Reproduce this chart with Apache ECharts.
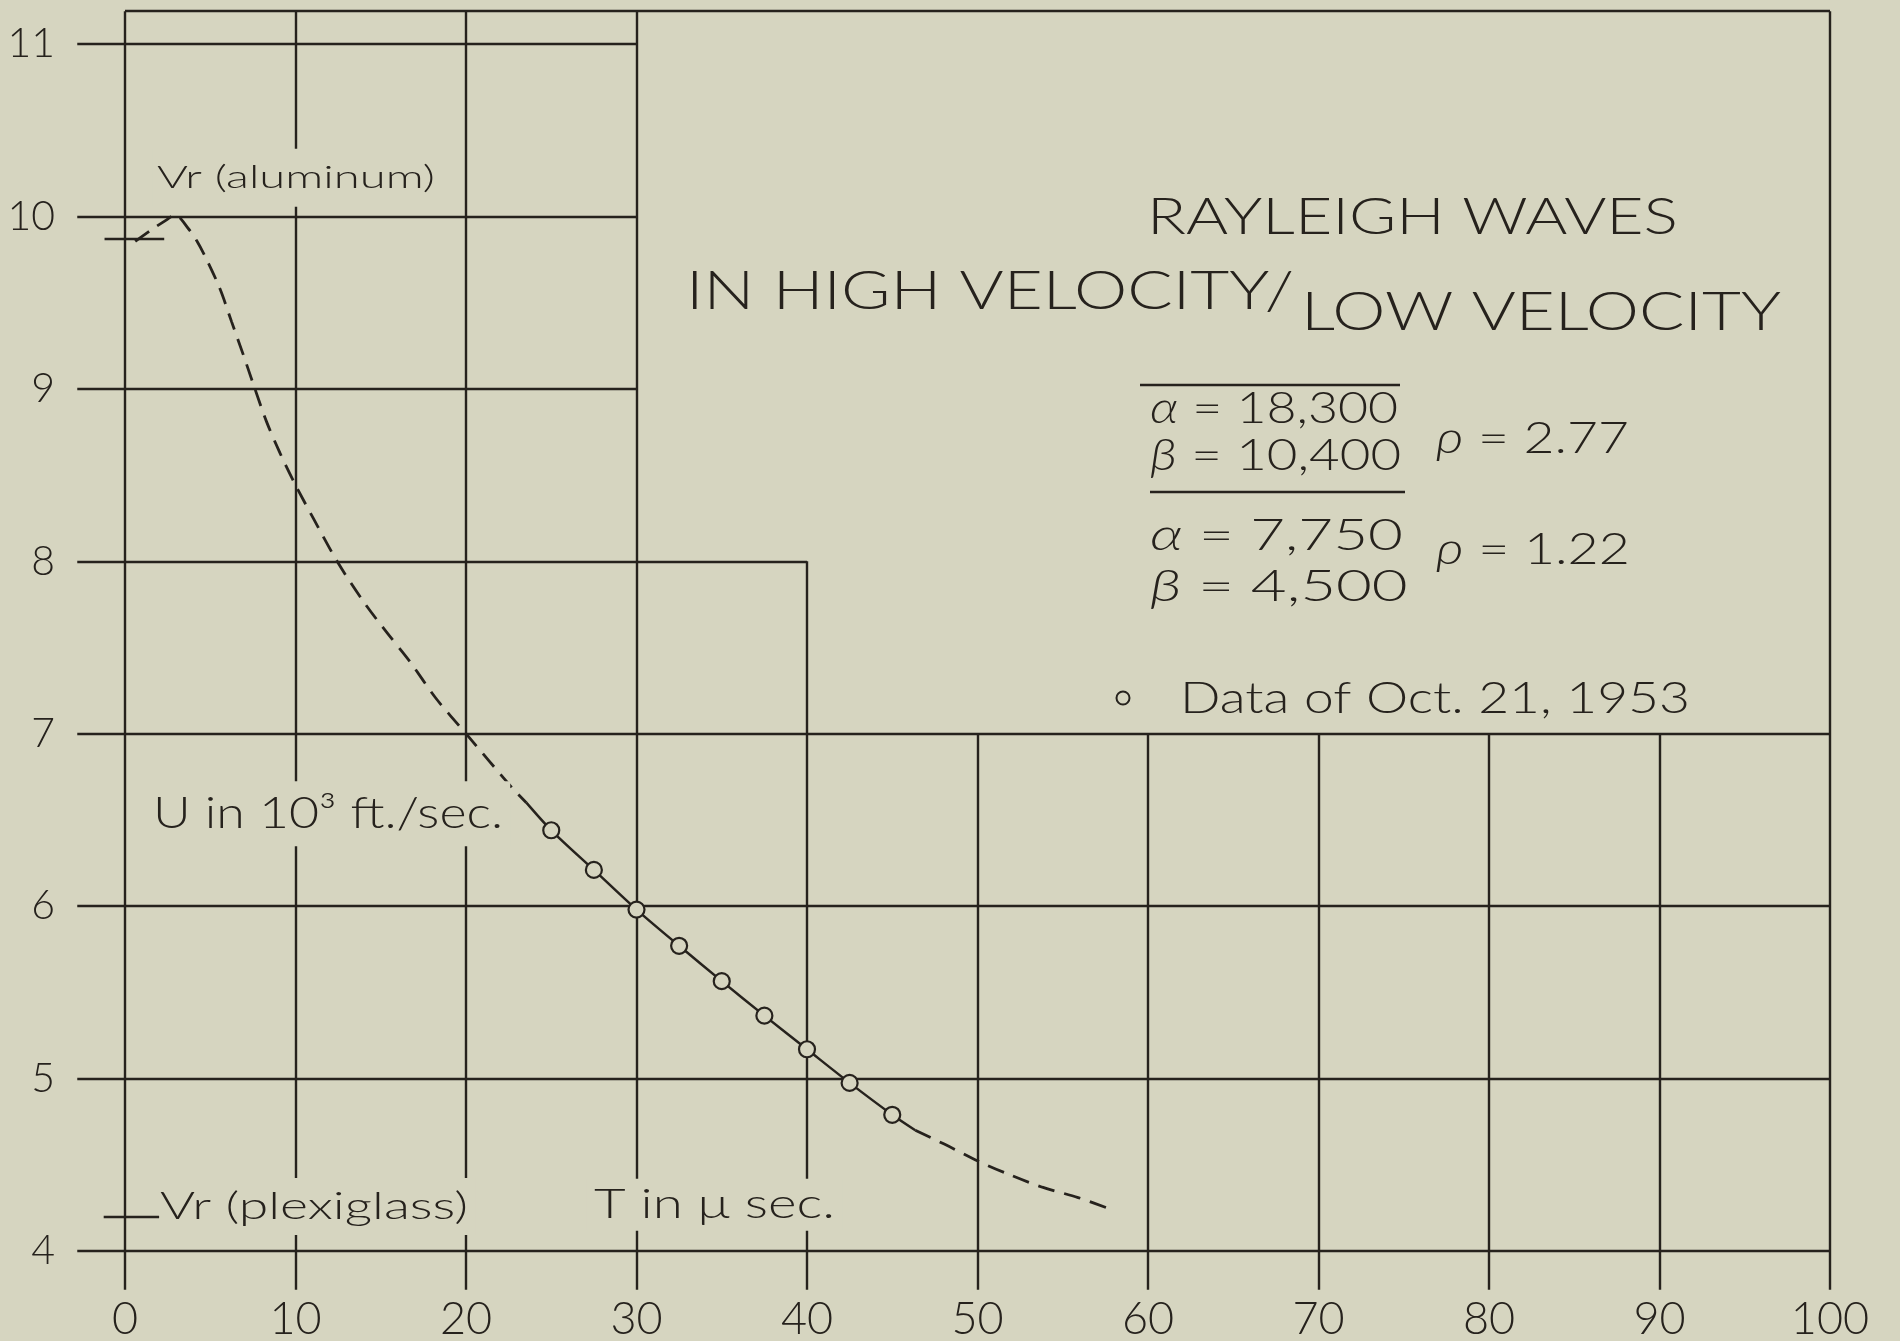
<!DOCTYPE html>
<html>
<head>
<meta charset="utf-8">
<script src="https://cdn.jsdelivr.net/npm/echarts@6/dist/echarts.min.js"></script>
<style>
html,body{margin:0;padding:0;background:#d6d5c0;}
#chart{width:1900px;height:1341px;}
</style>
</head>
<body>
<div id="chart"></div>
<script>
// ---------------- data ----------------
const xTickValues = [0, 10, 20, 30, 40, 50, 60, 70, 80, 90, 100];
const yTickValues = [4, 5, 6, 7, 8, 9, 10, 11];

// observed points "Data of Oct. 21, 1953"  (T in µsec, U in 10^3 ft/sec)
const dataT = [25, 27.5, 30, 32.5, 35, 37.5, 40, 42.5, 45];
const dataU = [6.44, 6.21, 5.98, 5.77, 5.565, 5.365, 5.17, 4.975, 4.79];

// theoretical curve, dashed head (from Vr aluminum)
const curveHead = [[0.6, 9.855], [1.66, 9.93], [2.44, 9.98], [2.93, 10.01], [3.71, 9.93], [4.2, 9.86],
  [4.79, 9.75], [5.57, 9.58], [6.25, 9.39], [6.93, 9.2], [7.62, 9.0], [8.3, 8.81], [9.08, 8.63],
  [9.96, 8.45], [11.04, 8.25], [12.44, 8.0], [13.96, 7.77], [15.33, 7.59], [16.7, 7.42],
  [18.2, 7.21], [20.0, 7.0], [22.76, 6.68], [23.54, 6.6]];
// solid part through the data
const curveFit = [[23.54, 6.6], [25, 6.44], [27.5, 6.21], [30, 5.98], [32.5, 5.77], [35, 5.565],
  [37.5, 5.365], [40, 5.17], [42.5, 4.975], [45, 4.79], [46.35, 4.70]];
// dashed tail
const curveTail = [[46.35, 4.70], [48.05, 4.62], [50.06, 4.52], [51.7, 4.45], [53.8, 4.37],
  [55.9, 4.31], [57.86, 4.24]];

const vrAluminum = 9.87;
const vrPlexiglass = 4.2;

// grid structure of the drawing sheet: how far each line reaches (value space)
const frameTop = 11.19;
const verticalReach = [[0, frameTop], [10, frameTop], [20, frameTop], [30, frameTop], [40, 8],
  [50, 7], [60, 7], [70, 7], [80, 7], [90, 7], [100, frameTop]];
const horizontalReach = [[4, 100], [5, 100], [6, 100], [7, 100], [8, 40], [9, 30], [10, 30], [11, 30]];

// ---------------- styling ----------------
const BG = '#d6d5c0';
const INK = '#26221d';
const FONT = 'Lato';
const WEIGHT = 300;

const chart = echarts.init(document.getElementById('chart'), null, {renderer: 'canvas'});

const X_TICK_END = 3.775;  // bottom tick end (value)
const Y_TICK_END = -2.8;   // left tick end (value)

const segs = [];
verticalReach.forEach(([x, top]) => segs.push({coords: [[x, X_TICK_END], [x, top]]}));
horizontalReach.forEach(([y, right]) => segs.push({coords: [[Y_TICK_END, y], [right, y]]}));
segs.push({coords: [[0, frameTop], [100, frameTop]]});
segs.push({coords: [[-1.2, vrAluminum], [2.3, vrAluminum]]});
segs.push({coords: [[-1.25, vrPlexiglass], [2.0, vrPlexiglass]]});

const mctx = document.createElement('canvas').getContext('2d');
function measure(str, font) { mctx.font = font; return mctx.measureText(str).width; }

// str may contain one greek letter at its start marked as italic via rich text
function label(str, left, width, capMid, size, pad, italicLead) {
  const p = pad || [0, 0, 0, 0];
  const font = `${WEIGHT} ${size}px ${FONT}`;
  const s = width / measure(str, font);
  const style = {
    text: italicLead ? `{g|${str.charAt(0)}}${str.slice(1)}` : str,
    font: font, fontFamily: FONT, fontSize: size, fontWeight: WEIGHT,
    fill: INK, align: 'left', verticalAlign: 'middle', lineHeight: size, padding: p
  };
  if (italicLead) {
    style.rich = {g: {fontFamily: FONT, fontSize: size, fontWeight: WEIGHT, fontStyle: 'italic', fill: INK, lineHeight: size}};
  }
  if (pad) style.backgroundColor = BG;
  return {
    type: 'text', z: 20, silent: true,
    x: left - p[3] * s,
    y: capMid + 0.04 * size - (p[0] - p[2]) / 2,
    scaleX: s,
    style: style
  };
}

const graphics = [
  label('Vr (aluminum)', 157, 278, 182.5, 32, [19, 3, 7, 3]),
  label('U in 10\u00b3 ft./sec.', 153, 350, 813, 43, [12, 6, 10, 6]),
  label('Vr (plexiglass)', 160, 308, 1203.5, 38, [8, 5, 11, 0]),
  label('T in \u03bc sec.', 594, 241, 1203, 42, [5, 6, 5, 6]),
  label('RAYLEIGH WAVES', 1147, 531, 215.5, 52),
  label('IN HIGH VELOCITY/', 686, 608, 290, 53),
  label('LOW VELOCITY', 1301, 480, 311, 53),
  label('\u03b1 = 18,300', 1150, 250, 407.5, 43, null, true),
  label('\u03b2 = 10,400', 1150, 253, 454, 43, null, true),
  label('\u03b1 = 7,750', 1150, 255, 534.5, 43, null, true),
  label('\u03b2 = 4,500', 1150, 260, 585, 43, null, true),
  label('\u03c1 = 2.77', 1436, 195, 437, 43, null, true),
  label('\u03c1 = 1.22', 1436, 196, 548, 43, null, true),
  label('Data of Oct. 21, 1953', 1180, 510, 697.5, 43),
  {type: 'line', z: 20, silent: true, shape: {x1: 1140, y1: 385, x2: 1400, y2: 385}, style: {stroke: INK, lineWidth: 2.4}},
  {type: 'line', z: 20, silent: true, shape: {x1: 1150, y1: 492, x2: 1405, y2: 492}, style: {stroke: INK, lineWidth: 2.4}},
  {type: 'circle', z: 20, silent: true, shape: {cx: 1123, cy: 698, r: 6.5}, style: {stroke: INK, lineWidth: 2, fill: 'none'}}
];

const option = {
  backgroundColor: BG,
  animation: false,
  grid: {left: 125, top: 44, width: 1705, height: 1207, containLabel: false, outerBoundsMode: 'none'},
  xAxis: {
    type: 'value', min: xTickValues[0], max: xTickValues[xTickValues.length - 1], interval: 10,
    axisLine: {show: false}, axisTick: {show: false}, splitLine: {show: false},
    axisLabel: {show: true, margin: 46, color: INK, fontFamily: FONT, fontWeight: WEIGHT, fontSize: 45,
      formatter: v => xTickValues.includes(v) ? String(v) : ''}
  },
  yAxis: {
    type: 'value', min: yTickValues[0], max: yTickValues[yTickValues.length - 1], interval: 1,
    axisLine: {show: false}, axisTick: {show: false}, splitLine: {show: false},
    axisLabel: {show: true, margin: 70, color: INK, fontFamily: FONT, fontWeight: WEIGHT, fontSize: 41,
      formatter: v => yTickValues.includes(v) ? String(v) : ''}
  },
  graphic: {elements: graphics},
  series: [
    {
      name: 'sheet grid', type: 'lines', coordinateSystem: 'cartesian2d', clip: false, silent: true, z: 1,
      lineStyle: {color: INK, width: 2.4, opacity: 1, curveness: 0},
      data: segs
    },
    {
      name: 'curve head', type: 'line', data: curveHead, smooth: 0.3, showSymbol: false, clip: false, z: 3,
      lineStyle: {color: INK, width: 2.8, type: [17, 10]}
    },
    {
      name: 'curve fit', type: 'line', data: curveFit, smooth: 0.3, showSymbol: false, clip: false, z: 3,
      lineStyle: {color: INK, width: 2.5, type: 'solid'}
    },
    {
      name: 'curve tail', type: 'line', data: curveTail, smooth: 0.3, showSymbol: false, clip: false, z: 3,
      lineStyle: {color: INK, width: 2.8, type: [17, 10]}
    },
    {
      name: 'Data of Oct. 21, 1953', type: 'scatter', z: 5,
      data: dataT.map((t, i) => [t, dataU[i]]),
      symbol: 'circle', symbolSize: 16,
      itemStyle: {color: BG, borderColor: INK, borderWidth: 2.2, opacity: 1}
    }
  ]
};
chart.setOption(option);
</script>
</body>
</html>
